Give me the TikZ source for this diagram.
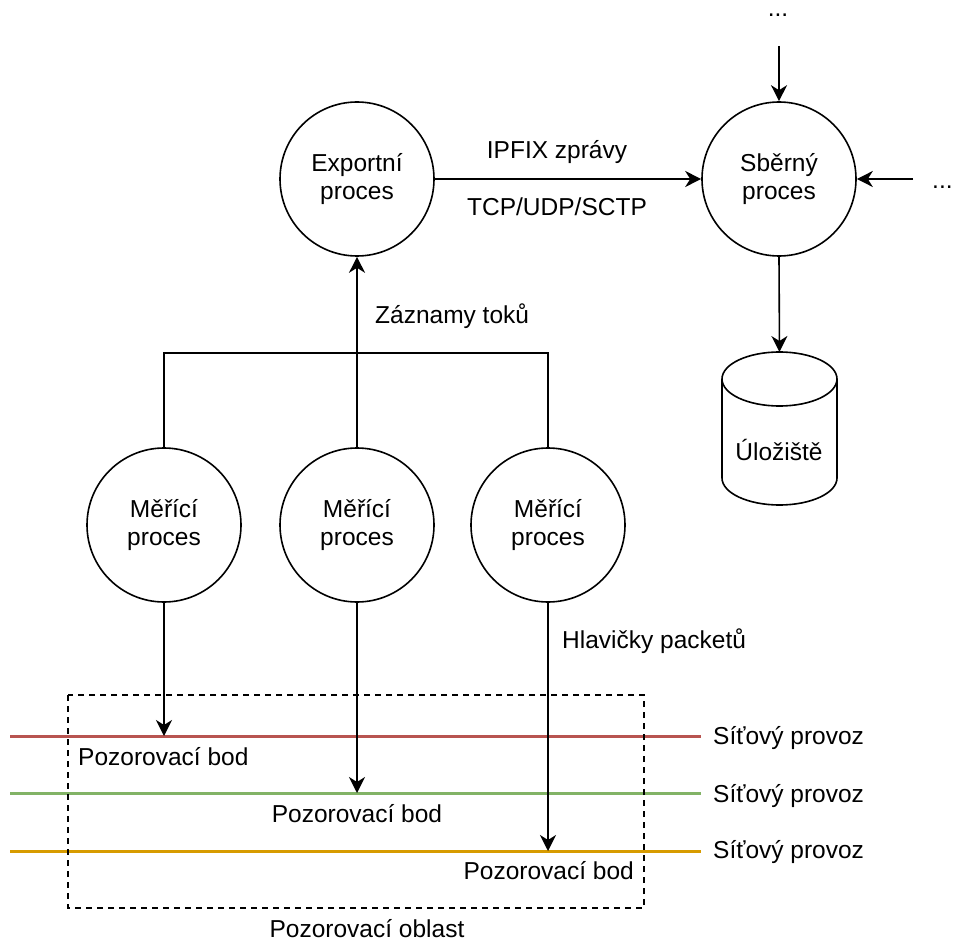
\documentclass[tikz,border=0pt]{standalone}
\usepackage{fontspec}
\setmainfont{Liberation Sans}
\usetikzlibrary{arrows.meta}
\definecolor{netred}{HTML}{B85450}
\definecolor{netgreen}{HTML}{82B366}
\definecolor{netorange}{HTML}{D79B00}
\tikzset{
  proc/.style={circle, draw, line width=1.6pt, minimum size=154pt, inner sep=0pt, align=center, font=\fontsize{24.5}{28}\selectfont},
  lbl/.style={anchor=base, inner sep=0pt, font=\fontsize{24.5}{28}\selectfont},
  conn/.style={line width=1.6pt},
  arr/.style={line width=1.6pt, -{Stealth[length=16pt, width=16pt, inset=5pt]}},
  netline/.style={line width=3pt},
}
\begin{document}
\begin{tikzpicture}[x=1pt, y=-1pt]
\useasboundingbox (0,0) rectangle (954,947);

% processes
\node[proc] (exp) at (357,179) {Exportní\\proces};
\node[proc] (col) at (779,179) {Sběrný\\proces};
\node[proc] (m1) at (164,525) {Měřící\\proces};
\node[proc] (m2) at (357,525) {Měřící\\proces};
\node[proc] (m3) at (548,525) {Měřící\\proces};

% storage cylinder
\draw[conn] (722,379) -- (722,478) arc[start angle=180, end angle=360, x radius=57.5pt, y radius=27pt] -- (837,379);
\draw[conn] (779.5,379) ellipse [x radius=57.5pt, y radius=27pt];
\coordinate (dbtop) at (779.5,352);
\node[lbl] (db) at (779,460) {Úložiště};

% dots
\node[lbl, text height=4pt, text depth=0pt] (dtop) at (778,17) {...};
\node[lbl, anchor=base west] (dright) at (932,189) {...};
\coordinate (dtopend) at (779,46);
\coordinate (drightend) at (913,179);

% export -> collector
\draw[arr] (exp.east) -- (col.west);
\node[lbl] (ipfix) at (557,159) {IPFIX zprávy};
\node[lbl] (tcp) at (557,215) {TCP/UDP/SCTP};

\draw[arr] (dtopend) -- (col.north);
\draw[arr] (drightend) -- (col.east);
\draw[arr] (col.south) -- (dbtop);

% tree
\coordinate (bus) at (357,353);
\draw[conn] (m1.north) |- (bus) -| (m3.north);
\draw[arr] (m2.north) -- (exp.south);
\node[lbl, anchor=base west] (zaz) at (375,323) {Záznamy toků};

% network lines
\coordinate (r0) at (10,736); \coordinate (r1) at (701,736);
\coordinate (g0) at (10,793); \coordinate (g1) at (701,793);
\coordinate (o0) at (10,851); \coordinate (o1) at (701,851);
\draw[netline, netred] (r0) -- (r1);
\draw[netline, netgreen] (g0) -- (g1);
\draw[netline, netorange] (o0) -- (o1);

% observation area
\draw[line width=1.4pt, dash pattern=on 6pt off 5pt] (68,695) rectangle (644,908);
\node[lbl] (area) at (367,937) {Pozorovací oblast};

% measurement arrows
\coordinate (p1) at (164,736);
\coordinate (p2) at (357,793);
\coordinate (p3) at (548,851);
\draw[arr] (m1.south) -- (p1);
\draw[arr] (m2.south) -- (p2);
\draw[arr] (m3.south) -- (p3);
\node[lbl, anchor=base west] (hlav) at (562,648) {Hlavičky packetů};

\node[lbl, anchor=base west] (b1) at (78,765) {Pozorovací bod};
\node[lbl] (b2) at (357,822) {Pozorovací bod};
\node[lbl, anchor=base east] (b3) at (634,879) {Pozorovací bod};

\node[lbl, anchor=base west] (s1) at (713,744) {Síťový provoz};
\node[lbl, anchor=base west] (s2) at (713,802) {Síťový provoz};
\node[lbl, anchor=base west] (s3) at (713,858) {Síťový provoz};
\end{tikzpicture}
\end{document}
